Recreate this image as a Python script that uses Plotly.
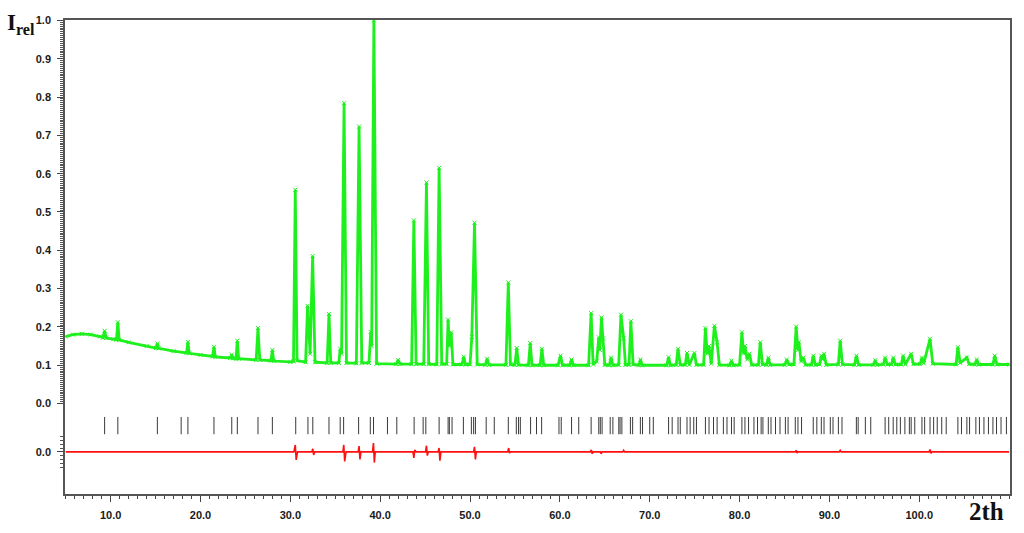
import plotly.graph_objects as go

# ---------------- data ----------------
# observed profile (2theta, relative intensity)
observed_points = [
    (5.0, 0.175), (5.8, 0.180), (6.8, 0.182), (7.8, 0.180), (8.8, 0.175),
    (9.15, 0.172), (9.33, 0.190), (9.5, 0.171),
    (10.3, 0.168), (10.65, 0.167), (10.8, 0.212), (10.95, 0.166),
    (12.0, 0.160), (14.0, 0.150),
    (15.05, 0.145), (15.2, 0.157), (15.35, 0.144),
    (17.0, 0.137),
    (18.45, 0.132), (18.6, 0.161), (18.75, 0.131),
    (20.0, 0.127),
    (21.35, 0.123), (21.5, 0.148), (21.65, 0.122),
    (23.3, 0.119), (23.48, 0.128), (23.6, 0.118),
    (23.95, 0.117), (24.1, 0.164), (24.25, 0.117),
    (26.2, 0.114), (26.4, 0.197), (26.6, 0.114),
    (27.85, 0.112), (28.0, 0.140), (28.15, 0.111),
    (30.0, 0.109), (30.35, 0.110), (30.55, 0.558), (30.75, 0.112),
    (31.7, 0.108), (31.92, 0.255), (32.2, 0.130), (32.48, 0.385), (32.75, 0.108),
    (34.1, 0.106), (34.3, 0.234), (34.5, 0.106),
    (35.4, 0.106), (35.55, 0.143), (35.7, 0.130), (35.98, 0.784), (36.25, 0.106),
    (37.35, 0.105), (37.65, 0.723), (37.95, 0.106),
    (38.75, 0.106), (38.95, 0.187), (39.05, 0.150), (39.3, 1.0), (39.6, 0.104),
    (41.8, 0.103), (42.0, 0.114), (42.2, 0.103),
    (43.5, 0.103), (43.75, 0.478), (44.0, 0.103),
    (44.85, 0.103), (45.15, 0.577), (45.4, 0.103),
    (46.3, 0.102), (46.56, 0.615), (46.85, 0.103),
    (47.4, 0.103), (47.56, 0.219), (47.7, 0.150), (47.9, 0.186), (48.1, 0.102),
    (49.1, 0.102), (49.3, 0.122), (49.5, 0.102),
    (50.0, 0.102), (50.2, 0.174), (50.5, 0.472), (50.8, 0.102),
    (51.7, 0.101), (51.9, 0.117), (52.1, 0.101),
    (54.0, 0.101), (54.26, 0.316), (54.5, 0.102),
    (55.0, 0.101), (55.2, 0.145), (55.4, 0.101),
    (56.5, 0.100), (56.7, 0.158), (56.9, 0.100),
    (57.8, 0.100), (58.0, 0.143), (58.2, 0.100),
    (59.8, 0.100), (60.07, 0.125), (60.3, 0.100),
    (61.1, 0.100), (61.3, 0.115), (61.5, 0.100),
    (63.2, 0.100), (63.48, 0.236), (63.7, 0.102), (64.1, 0.110), (64.33, 0.173),
    (64.45, 0.140), (64.63, 0.225), (64.8, 0.170), (65.0, 0.101),
    (65.5, 0.100), (65.7, 0.120), (65.9, 0.100),
    (66.55, 0.101), (66.8, 0.232), (67.1, 0.170), (67.3, 0.101),
    (67.7, 0.101), (67.9, 0.215), (68.15, 0.102),
    (68.8, 0.100), (68.96, 0.115), (69.15, 0.100),
    (71.9, 0.100), (72.1, 0.121), (72.3, 0.100),
    (72.95, 0.101), (73.15, 0.143), (73.4, 0.101),
    (73.95, 0.101), (74.15, 0.132), (74.4, 0.101), (74.97, 0.132), (75.2, 0.101),
    (76.0, 0.101), (76.2, 0.197), (76.4, 0.130), (76.6, 0.150), (76.85, 0.104),
    (77.2, 0.203), (77.5, 0.160), (77.75, 0.101),
    (78.9, 0.100), (79.1, 0.112), (79.3, 0.100),
    (80.0, 0.101), (80.26, 0.186), (80.45, 0.130), (80.6, 0.150), (80.85, 0.115),
    (81.1, 0.130), (81.35, 0.101),
    (82.1, 0.101), (82.3, 0.160), (82.55, 0.102),
    (83.0, 0.101), (83.2, 0.120), (83.4, 0.101),
    (85.05, 0.101), (85.26, 0.115), (85.5, 0.102),
    (86.05, 0.102), (86.3, 0.201), (86.5, 0.140), (86.6, 0.160), (86.85, 0.110),
    (87.1, 0.120), (87.35, 0.101),
    (88.0, 0.101), (88.2, 0.125), (88.45, 0.101),
    (88.9, 0.102), (89.1, 0.125), (89.25, 0.115), (89.4, 0.130), (89.65, 0.101),
    (91.0, 0.102), (91.2, 0.164), (91.45, 0.102),
    (92.8, 0.101), (93.0, 0.125), (93.25, 0.101),
    (94.9, 0.101), (95.1, 0.113), (95.3, 0.101),
    (96.0, 0.102), (96.2, 0.120), (96.45, 0.102),
    (96.9, 0.102), (97.1, 0.120), (97.35, 0.102),
    (98.0, 0.102), (98.2, 0.125), (98.45, 0.102), (99.1, 0.130), (99.35, 0.103),
    (100.1, 0.103), (100.3, 0.120), (100.5, 0.105), (101.2, 0.169), (101.5, 0.104),
    (104.1, 0.102), (104.3, 0.147), (104.55, 0.106), (105.3, 0.120), (105.55, 0.103),
    (106.2, 0.102), (106.4, 0.115), (106.6, 0.102),
    (108.2, 0.102), (108.4, 0.125), (108.65, 0.102),
    (110.0, 0.102),
]

# difference curve (obs - calc), relative to its own zero line
difference_points = [
    (5.0, 0.0), (30.4, 0.0), (30.55, 0.018), (30.65, -0.021), (30.8, 0.0),
    (32.4, 0.0), (32.5, 0.008), (32.6, -0.008), (32.7, 0.0),
    (35.85, 0.0), (35.95, 0.018), (36.05, -0.025), (36.2, 0.0),
    (37.55, 0.0), (37.65, 0.015), (37.75, -0.02), (37.85, 0.0),
    (39.15, 0.0), (39.25, 0.023), (39.35, -0.028), (39.45, 0.0),
    (43.65, 0.0), (43.75, -0.016), (43.85, 0.005), (44.0, 0.0),
    (45.05, 0.0), (45.15, 0.016), (45.25, -0.01), (45.35, 0.0),
    (46.45, 0.0), (46.55, 0.010), (46.65, -0.023), (46.75, 0.0),
    (50.4, 0.0), (50.5, 0.013), (50.6, -0.02), (50.7, 0.0),
    (54.2, 0.0), (54.3, 0.010), (54.4, -0.003), (54.5, 0.0),
    (63.4, 0.0), (63.5, 0.005), (63.6, -0.005), (63.7, 0.0),
    (64.5, 0.0), (64.6, -0.005), (64.7, 0.0),
    (67.0, 0.0), (67.1, 0.004), (67.2, 0.0),
    (86.2, 0.0), (86.3, 0.004), (86.4, -0.003), (86.5, 0.0),
    (91.1, 0.0), (91.2, 0.004), (91.3, 0.0),
    (101.1, 0.0), (101.2, 0.006), (101.3, -0.004), (101.4, 0.0),
    (110.0, 0.0),
]

# Bragg reflection positions (2theta)
bragg_positions = [
    9.33, 10.8, 15.2, 17.85, 18.6, 21.5, 23.48, 24.1, 26.4, 28.0, 30.6,
    31.96, 32.5, 34.3, 35.55, 35.93, 37.6, 38.9, 39.26, 40.81, 41.85, 43.78,
    44.78, 45.08, 46.56, 47.56, 47.7, 48.0, 49.26, 50.15, 50.4, 50.6, 51.8,
    52.7, 54.26, 55.15, 55.4, 55.6, 56.74, 57.4, 57.97, 59.9, 60.15, 61.3,
    62.1, 63.48, 64.33, 64.5, 64.7, 65.6, 65.9, 66.56, 66.7, 66.9, 67.85,
    68.1, 68.96, 69.2, 70.0, 70.4, 72.1, 72.5, 73.15, 73.4, 74.15, 74.5,
    74.9, 75.2, 76.2, 76.6, 77.1, 77.5, 78.2, 78.6, 79.1, 79.4, 80.26, 80.6,
    81.0, 81.6, 82.0, 82.4, 82.6, 83.2, 83.5, 84.0, 84.5, 85.1, 85.4, 86.2,
    86.5, 86.9, 88.2, 88.6, 89.1, 89.4, 90.1, 90.4, 91.0, 91.4, 93.0, 93.2,
    94.0, 94.6, 96.2, 96.6, 97.1, 97.5, 97.9, 98.4, 98.9, 99.1, 99.5, 100.3,
    100.6, 101.2, 101.6, 102.0, 102.5, 103.0, 104.3, 104.7, 105.3, 105.6,
    106.3, 106.7, 107.2, 107.7, 108.2, 108.6, 109.1, 109.7,
]

x_tick_values = [10, 20, 30, 40, 50, 60, 70, 80, 90, 100]
x_tick_labels = ["10.0", "20.0", "30.0", "40.0", "50.0", "60.0", "70.0", "80.0", "90.0", "100.0"]
y_tick_values = [0.0, 0.1, 0.2, 0.3, 0.4, 0.5, 0.6, 0.7, 0.8, 0.9, 1.0]
y_tick_labels = ["0.0", "0.1", "0.2", "0.3", "0.4", "0.5", "0.6", "0.7", "0.8", "0.9", "1.0"]

# ---------------- layout constants ----------------
DIFF_ZERO = -0.126          # where the difference curve's zero is drawn
BRAGG_TOP, BRAGG_BOTTOM = -0.035, -0.080
GREEN = "#1ef01e"
LABEL_COLOR = "#1a1a1a"

obs_x = [p[0] for p in observed_points]
obs_y = [p[1] for p in observed_points]
diff_x = [p[0] for p in difference_points]
diff_y = [p[1] + DIFF_ZERO for p in difference_points]

bragg_x, bragg_y = [], []
for pos in bragg_positions:
    bragg_x += [pos, pos, None]
    bragg_y += [BRAGG_TOP, BRAGG_BOTTOM, None]

fig = go.Figure()
fig.add_trace(go.Scatter(
    x=bragg_x, y=bragg_y, mode="lines",
    line=dict(color="#3a3a3a", width=1), hoverinfo="skip", showlegend=False))
fig.add_trace(go.Scatter(
    x=diff_x, y=diff_y, mode="lines",
    line=dict(color="#ff1010", width=1.6), showlegend=False))
fig.add_trace(go.Scatter(
    x=obs_x, y=obs_y, mode="lines+markers",
    line=dict(color=GREEN, width=2.8),
    marker=dict(symbol="x-thin", size=4, line=dict(width=1, color=GREEN), color=GREEN),
    showlegend=False))

# y minor ticks: dense in the main section and around the difference zero
minor_y = [round(i * 0.005, 4) for i in range(0, 201)]
minor_y = [v for v in minor_y if abs(round(v * 10) - v * 10) > 1e-6]
minor_y += [round(DIFF_ZERO + d * 0.01, 4) for d in range(-4, 5) if d != 0]

fig.update_layout(
    width=1024, height=533,
    margin=dict(l=65, r=13, t=20, b=37),
    paper_bgcolor="white", plot_bgcolor="white",
    xaxis=dict(
        range=[4.92, 110.1], showgrid=False, zeroline=False,
        showline=True, linecolor="#555555", linewidth=1.5, mirror=True,
        ticks="outside", ticklen=6, tickwidth=1, tickcolor="#444444",
        tickmode="array", tickvals=x_tick_values,
        ticktext=["<b>%s</b>" % t for t in x_tick_labels],
        tickfont=dict(family="Liberation Sans, Arial", size=11, color=LABEL_COLOR),
        ticklabelstandoff=4,
        minor=dict(dtick=1, tick0=0, ticks="outside", ticklen=3, tickcolor="#444444", showgrid=False),
    ),
    yaxis=dict(
        range=[-0.236, 1.001], showgrid=False, zeroline=False,
        showline=True, linecolor="#555555", linewidth=1.5, mirror=True,
        ticks="outside", ticklen=6, tickwidth=1, tickcolor="#444444",
        tickmode="array", tickvals=y_tick_values + [DIFF_ZERO],
        ticktext=["<b>%s</b>" % t for t in y_tick_labels] + ["<b>0.0</b>"],
        tickfont=dict(family="Liberation Sans, Arial", size=11, color=LABEL_COLOR),
        ticklabelstandoff=4,
        minor=dict(tickmode="array", tickvals=minor_y, ticks="outside", ticklen=3,
                   tickcolor="#555555", showgrid=False),
    ),
    annotations=[
        dict(text="<b>I<sub>rel</sub></b>", xref="paper", yref="paper",
             x=(5 - 65) / 946, y=(496 - 24) / 476, xanchor="left", yanchor="middle",
             showarrow=False, font=dict(family="Liberation Serif, Times New Roman", size=23, color="#111111")),
        dict(text="<b>2th</b>", xref="paper", yref="paper",
             x=(987 - 65) / 946, y=(496 - 514) / 476, xanchor="center", yanchor="middle",
             showarrow=False, font=dict(family="Liberation Serif, Times New Roman", size=25, color="#111111")),
    ],
)

fig.write_html("out.html", config={"displayModeBar": False},
               post_script="document.body.style.margin='0';document.body.style.overflow='hidden';")
